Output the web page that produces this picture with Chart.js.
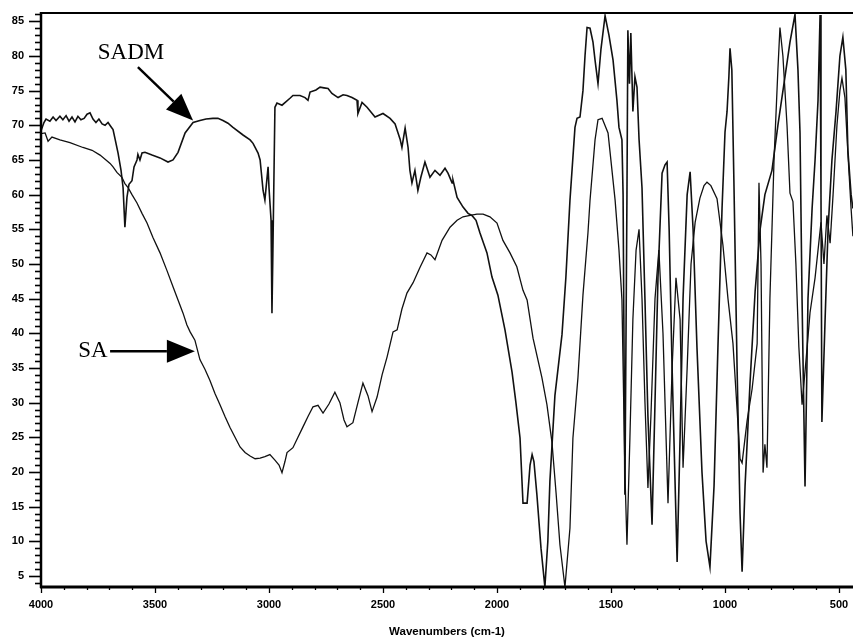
<!DOCTYPE html>
<html>
<head>
<meta charset="utf-8">
<script src="https://cdn.jsdelivr.net/npm/chart.js@4.4.1/dist/chart.umd.min.js"></script>
<style>
  html, body { margin: 0; padding: 0; background: #fff; }
  #wrap { width: 853px; height: 642px; }
</style>
</head>
<body>
<div id="wrap"><canvas id="ir" width="853" height="642"></canvas></div>
<script>
// IR spectra: transmittance (%) against wavenumber (cm-1)
const sadmWavenumbers = [
  4000,3987,3978,3961,3947,3934,3917,3904,3890,3877,
  3864,3851,3838,3825,3811,3798,3785,3772,3759,3746,
  3732,3719,3706,3693,3684,3675,3662,3649,3640,3632,
  3623,3614,3601,3592,3579,3575,3566,3557,3544,3513,
  3478,3443,3421,3399,3368,3333,3303,3276,3246,3224,
  3202,3180,3158,3114,3083,3070,3048,3039,3026,3018,
  3004,3000,2991,2987,2983,2974,2965,2943,2908,2895,
  2864,2842,2829,2820,2794,2776,2759,2741,2724,2697,
  2675,2658,2636,2614,2610,2592,2570,2535,2500,2469,
  2447,2438,2425,2417,2403,2390,2382,2373,2360,2347,
  2334,2316,2294,2272,2250,2228,2215,2197,2193,2175,
  2149,2127,2110,2092,2075,2057,2044,2022,1996,1965,
  1934,1917,1899,1886,1868,1855,1846,1838,1825,1807,
  1790,1777,1768,1746,1715,1698,1680,1658,1649,1636,
  1623,1614,1605,1592,1579,1570,1557,1544,1526,1509,
  1491,1474,1465,1452,1447,1439,1430,1426,1419,1413,
  1404,1395,1386,1377,1364,1351,1338,1320,1307,1294,
  1276,1263,1254,1245,1232,1210,1197,1184,1166,1153,
  1140,1123,1101,1083,1066,1048,1031,1013,1000,991,
  983,978,970,961,947,934,925,912,890,868,
  846,825,794,768,737,715,693,680,671,662,
  649,636,618,605,592,583,579,575,561,548,
  531,513,496,483,470,461,447,439
];
const sadmTransmittance = [
  69.2,70.4,70.9,70.6,71.2,70.7,71.3,70.8,71.4,70.6,
  71.2,70.5,71.3,70.8,71.0,71.6,71.8,70.9,70.4,70.9,
  70.2,70.0,70.4,69.8,69.4,68.0,66.0,63.5,61.0,55.3,
  59.6,61.5,62.0,64.0,65.0,65.8,65.0,66.0,66.1,65.7,
  65.3,64.7,65.0,66.1,68.9,70.4,70.7,70.9,71.0,71.0,
  70.7,70.3,69.7,68.6,67.9,67.4,66.0,65.0,60.6,59.2,
  64.0,61.0,56.3,42.9,51.6,72.6,73.2,72.9,73.9,74.3,
  74.3,74.0,73.6,74.8,75.1,75.5,75.4,75.3,74.6,74.0,
  74.4,74.3,74.0,73.6,71.7,73.3,72.6,71.2,71.7,71.0,
  70.2,69.3,68.0,66.8,69.6,66.8,63.5,61.7,63.5,60.6,
  62.5,64.7,62.5,63.5,62.8,63.8,63.1,61.7,62.1,59.6,
  58.2,57.3,57.0,56.3,54.5,52.8,51.6,48.1,45.5,40.5,
  34.4,30.0,24.9,15.5,15.5,21.0,22.5,21.5,16.7,9.0,
  3.4,10.0,18.6,31.0,39.8,48.0,59.2,69.7,71.0,71.2,
  75.0,80.0,84.1,84.0,82.0,79.4,76.0,81.0,85.8,83.0,
  79.4,73.6,69.7,67.9,60.0,16.7,60.0,83.7,76.0,83.3,
  72.0,77.0,75.5,68.0,61.0,44.8,28.0,12.4,30.0,48.0,
  63.1,64.3,64.7,55.0,35.0,7.0,25.0,45.0,60.0,63.3,
  55.0,38.0,20.0,10.0,6.3,18.0,38.0,58.0,69.0,72.0,
  77.0,81.1,78.0,62.0,35.0,14.0,5.6,18.0,33.0,46.0,
  55.0,60.0,63.5,70.0,77.0,82.0,86.0,78.0,68.9,44.8,
  17.9,45.0,58.0,65.0,73.6,85.9,60.0,27.2,42.0,55.0,
  65.0,72.0,80.0,82.7,78.0,66.4,60.0,58.0
];

const saWavenumbers = [
  4000,3982,3969,3952,3917,3873,3816,3776,3741,3715,
  3697,3684,3667,3645,3632,3618,3601,3579,3557,3535,
  3509,3478,3447,3421,3399,3377,3360,3346,3325,3303,
  3281,3259,3237,3215,3193,3171,3149,3127,3105,3083,
  3061,3039,3018,2996,2974,2956,2943,2930,2921,2895,
  2873,2851,2829,2807,2785,2763,2737,2711,2689,2671,
  2658,2632,2610,2588,2566,2548,2526,2504,2482,2456,
  2438,2417,2395,2368,2338,2307,2290,2272,2241,2206,
  2175,2149,2118,2088,2061,2031,2000,1974,1943,1913,
  1886,1868,1842,1803,1781,1759,1741,1724,1702,1680,
  1667,1645,1623,1601,1592,1570,1557,1539,1513,1482,
  1465,1452,1439,1430,1417,1404,1390,1377,1364,1351,
  1338,1325,1307,1290,1272,1250,1232,1215,1197,1184,
  1166,1149,1131,1110,1092,1079,1062,1035,1009,987,
  965,947,934,925,903,881,859,851,842,833,
  825,816,803,785,768,759,746,728,715,702,
  689,676,662,645,627,605,592,579,566,553,
  539,526,509,496,487,474,461,447,439
];
const saTransmittance = [
  68.8,68.9,67.7,68.3,67.9,67.5,66.8,66.4,65.7,65.0,
  64.5,64.0,63.2,62.5,61.6,61.0,60.0,58.8,57.3,55.9,
  53.8,51.6,49.0,46.7,44.8,42.9,41.2,40.2,39.0,36.2,
  34.8,33.2,31.3,29.7,28.0,26.4,25.0,23.6,22.8,22.3,
  21.9,22.0,22.2,22.5,21.7,21.0,19.9,21.5,22.8,23.5,
  25.0,26.5,28.0,29.4,29.6,28.5,29.8,31.5,30.0,27.5,
  26.5,27.1,30.0,32.8,31.0,28.7,30.8,34.0,36.6,40.2,
  40.5,43.5,45.8,47.3,49.5,51.6,51.3,50.6,53.4,55.3,
  56.3,56.8,57.0,57.2,57.2,56.8,55.9,53.4,51.6,49.6,
  46.2,44.8,39.3,33.6,29.7,24.3,17.0,9.5,3.4,11.9,
  24.9,33.6,45.5,54.5,59.2,67.9,70.8,71.0,68.9,59.2,
  52.0,44.8,20.0,9.5,25.0,42.0,52.0,55.0,45.0,30.0,
  17.7,28.0,45.0,52.0,40.0,15.5,35.0,48.0,42.0,20.6,
  35.0,50.0,56.0,59.5,61.3,61.8,61.3,59.4,52.7,45.0,
  38.5,29.0,21.9,21.3,27.4,32.0,38.5,61.7,50.0,19.9,
  24.0,20.6,45.0,65.0,78.0,84.1,80.0,70.0,60.2,59.0,
  50.0,38.0,29.7,36.0,43.0,48.0,52.0,56.0,50.0,57.0,
  53.0,60.0,70.0,75.0,76.8,74.0,66.0,58.0,54.0
];

// Axis tick labels
const wavenumberTicks = [4000, 3500, 3000, 2500, 2000, 1500, 1000, 500];
const transmittanceTicks = [5, 10, 15, 20, 25, 30, 35, 40, 45, 50, 55, 60, 65, 70, 75, 80, 85];
const seriesNames = ['SADM', 'SA'];

const toPoints = (xs, ys) => xs.map((v, i) => ({ x: v, y: ys[i] }));

const tickFont = { family: "'Liberation Sans', Arial, sans-serif", size: 11, weight: 'bold' };

// Frame lines, minor/major tick marks and the two arrow labels
const frameAndLabels = {
  id: 'frameAndLabels',
  afterDraw(chart) {
    const { ctx, chartArea: a, scales: { x, y } } = chart;
    ctx.save();
    ctx.strokeStyle = '#000';
    ctx.fillStyle = '#000';

    // top border
    ctx.lineWidth = 2;
    ctx.beginPath();
    ctx.moveTo(a.left, a.top);
    ctx.lineTo(a.right, a.top);
    ctx.stroke();

    // left axis
    ctx.lineWidth = 2.5;
    ctx.beginPath();
    ctx.moveTo(a.left, a.top - 1);
    ctx.lineTo(a.left, a.bottom + 1);
    ctx.stroke();

    // bottom axis
    ctx.lineWidth = 3;
    ctx.beginPath();
    ctx.moveTo(a.left - 1, a.bottom);
    ctx.lineTo(a.right, a.bottom);
    ctx.stroke();

    // y tick marks: every unit, longer every five
    ctx.lineWidth = 1.6;
    for (let v = Math.ceil(y.min); v <= y.max; v++) {
      const py = Math.round(y.getPixelForValue(v)) + 0.5;
      const len = v % 5 === 0 ? 12 : 6;
      ctx.beginPath();
      ctx.moveTo(a.left - len, py);
      ctx.lineTo(a.left, py);
      ctx.stroke();
    }

    // x tick marks: every 100 cm-1, longer every 500
    ctx.lineWidth = 1.3;
    for (let w = 500; w <= 4000; w += 100) {
      const px = Math.round(x.getPixelForValue(w)) + 0.5;
      const len = w % 500 === 0 ? 6 : 3;
      ctx.beginPath();
      ctx.moveTo(px, a.bottom);
      ctx.lineTo(px, a.bottom + len);
      ctx.stroke();
    }

    // arrow labels
    const arrow = (x0, y0, x1, y1, headLen, headHalf) => {
      const ang = Math.atan2(y1 - y0, x1 - x0);
      const bx = x1 - headLen * Math.cos(ang);
      const by = y1 - headLen * Math.sin(ang);
      ctx.lineWidth = 2.4;
      ctx.beginPath();
      ctx.moveTo(x0, y0);
      ctx.lineTo(bx, by);
      ctx.stroke();
      ctx.beginPath();
      ctx.moveTo(x1, y1);
      ctx.lineTo(bx + headHalf * Math.sin(ang), by - headHalf * Math.cos(ang));
      ctx.lineTo(bx - headHalf * Math.sin(ang), by + headHalf * Math.cos(ang));
      ctx.closePath();
      ctx.fill();
    };

    ctx.font = "23px 'Liberation Serif', 'Times New Roman', serif";
    ctx.textAlign = 'center';
    ctx.textBaseline = 'middle';

    ctx.fillText(seriesNames[0], x.getPixelForValue(3605), y.getPixelForValue(80.5));
    arrow(x.getPixelForValue(3575), y.getPixelForValue(78.4),
          x.getPixelForValue(3333), y.getPixelForValue(70.7), 27, 11);

    ctx.fillText(seriesNames[1], x.getPixelForValue(3772), y.getPixelForValue(37.4));
    arrow(x.getPixelForValue(3697), y.getPixelForValue(37.4),
          x.getPixelForValue(3325), y.getPixelForValue(37.4), 28, 11.5);

    ctx.restore();
  }
};

new Chart(document.getElementById('ir'), {
  type: 'line',
  data: {
    datasets: [
      {
        label: seriesNames[0],
        data: toPoints(sadmWavenumbers, sadmTransmittance),
        borderColor: '#111',
        borderWidth: 1.6,
        pointRadius: 0,
        tension: 0,
        fill: false
      },
      {
        label: seriesNames[1],
        data: toPoints(saWavenumbers, saTransmittance),
        borderColor: '#111',
        borderWidth: 1.3,
        pointRadius: 0,
        tension: 0,
        fill: false
      }
    ]
  },
  options: {
    responsive: false,
    animation: false,
    devicePixelRatio: 1,
    layout: { padding: { top: 13, right: 0, bottom: 0, left: 0 } },
    plugins: {
      legend: { display: false },
      tooltip: { enabled: false }
    },
    scales: {
      x: {
        type: 'linear',
        reverse: true,
        min: 438.6,
        max: 4000,
        grid: { display: false, drawTicks: false },
        border: { display: false },
        afterBuildTicks: (s) => { s.ticks = wavenumberTicks.map(v => ({ value: v })); },
        afterFit: (s) => { s.height = 55; s.paddingLeft = 0; s.paddingRight = 0; },
        ticks: {
          autoSkip: false,
          maxRotation: 0,
          padding: 11,
          color: '#000',
          font: tickFont,
          callback: (v) => String(v)
        },
        title: {
          display: true,
          text: 'Wavenumbers (cm-1)',
          color: '#000',
          font: { family: "'Liberation Sans', Arial, sans-serif", size: 11.5, weight: 'bold' },
          padding: { top: 0, bottom: 3 }
        }
      },
      y: {
        type: 'linear',
        min: 3.4,
        max: 86.2,
        grid: { display: false, drawTicks: false },
        border: { display: false },
        afterBuildTicks: (s) => { s.ticks = transmittanceTicks.map(v => ({ value: v })); },
        afterFit: (s) => { s.width = 41; s.paddingTop = 0; s.paddingBottom = 0; },
        ticks: {
          autoSkip: false,
          padding: 17,
          color: '#000',
          font: tickFont,
          callback: (v) => String(v)
        }
      }
    }
  },
  plugins: [frameAndLabels]
});
</script>
</body>
</html>
